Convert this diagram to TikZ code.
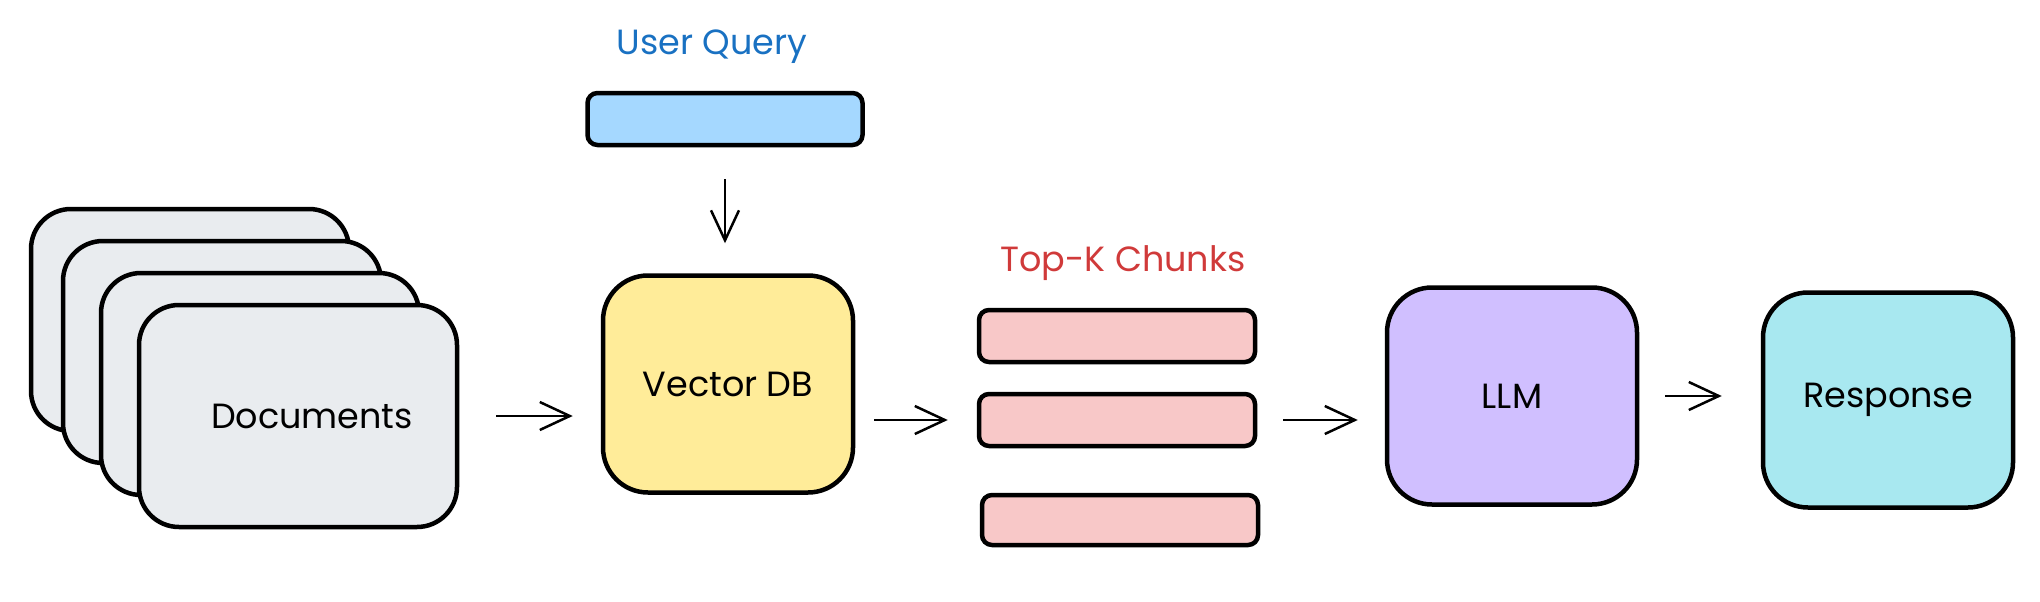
\documentclass[tikz,border=0pt]{standalone}
\usepackage{fontspec}
\setmainfont{Poppins}
\usepackage{tikz}
\usetikzlibrary{positioning}
\usetikzlibrary{arrows.meta}
\usepackage{color}
\definecolor{docgray}{HTML}{E9ECEF}
\definecolor{dbyellow}{HTML}{FFEC99}
\definecolor{querblue}{HTML}{A5D8FF}
\definecolor{chunkpink}{HTML}{F8C8C8}
\definecolor{llmpurple}{HTML}{D0BFFF}
\definecolor{respcyan}{HTML}{A8E8F0}
\definecolor{labblue}{HTML}{1971C2}
\definecolor{labred}{HTML}{D03A3A}

\begin{document}
\begin{tikzpicture}
      [
        x = 1pt, y = -1pt,
        every node/.style = {font=\fontsize{35}{42}\selectfont},
        card/.style = {draw, line width=4.5pt, fill=docgray, rounded corners=40pt,
                       minimum width=318pt, minimum height=222pt},
        bigbox/.style = {draw, line width=4.5pt, rounded corners=45pt,
                         minimum width=250pt, minimum height=217pt},
        bar/.style = {draw, line width=4.5pt, rounded corners=10pt,
                      minimum width=276pt, minimum height=52pt},
        flow/.style = {-{Straight Barb[length=30pt, width=28pt]}, line width=2.5pt}
      ]

      \useasboundingbox (0,0) rectangle (2040,602);

      \node[card] (docA) at (190,320) {};
      \node[card] (docB) at (222,352) {};
      \node[card] (docC) at (260,384) {};
      \node[card] (docs) at (298,416) {\hspace*{28pt}Documents};

      \node[text=labblue] (querylab) at (712,47) {User Query};
      \node[bar, fill=querblue, minimum width=275pt] (query) at (725,119) {};

      \node[bigbox, fill=dbyellow] (vdb) at (728,384) {Vector DB};

      \node[text=labred] (chunklab) at (1123,263) {Top-K Chunks};
      \node[bar, fill=chunkpink] (chunkA) at (1117,336) {};
      \node[bar, fill=chunkpink] (chunkB) at (1117,420) {};
      \node[bar, fill=chunkpink, minimum height=50pt] (chunkC) at (1120,520) {};

      \node[bigbox, fill=llmpurple] (llm) at (1512,396) {LLM};
      \node[bigbox, fill=respcyan, minimum height=215pt] (resp) at (1888,400) {Response};

      \draw[flow, shorten <=37pt, shorten >=28pt] (docs.east) -- (docs.east -| vdb.west);
      \draw[flow, shorten <=32pt, shorten >=30pt] (query.south) -- (query.south |- vdb.north);
      \draw[flow, shorten <=19pt, shorten >=29pt] (vdb.east |- chunkB.west) -- (chunkB.west);
      \draw[flow, shorten <=26pt, shorten >=27pt] (chunkB.east) -- (chunkB.east -| llm.west);
      \draw[flow, shorten <=26pt, shorten >=39pt] (llm.east) -- (llm.east -| resp.west);

    \end{tikzpicture}
\end{document}
